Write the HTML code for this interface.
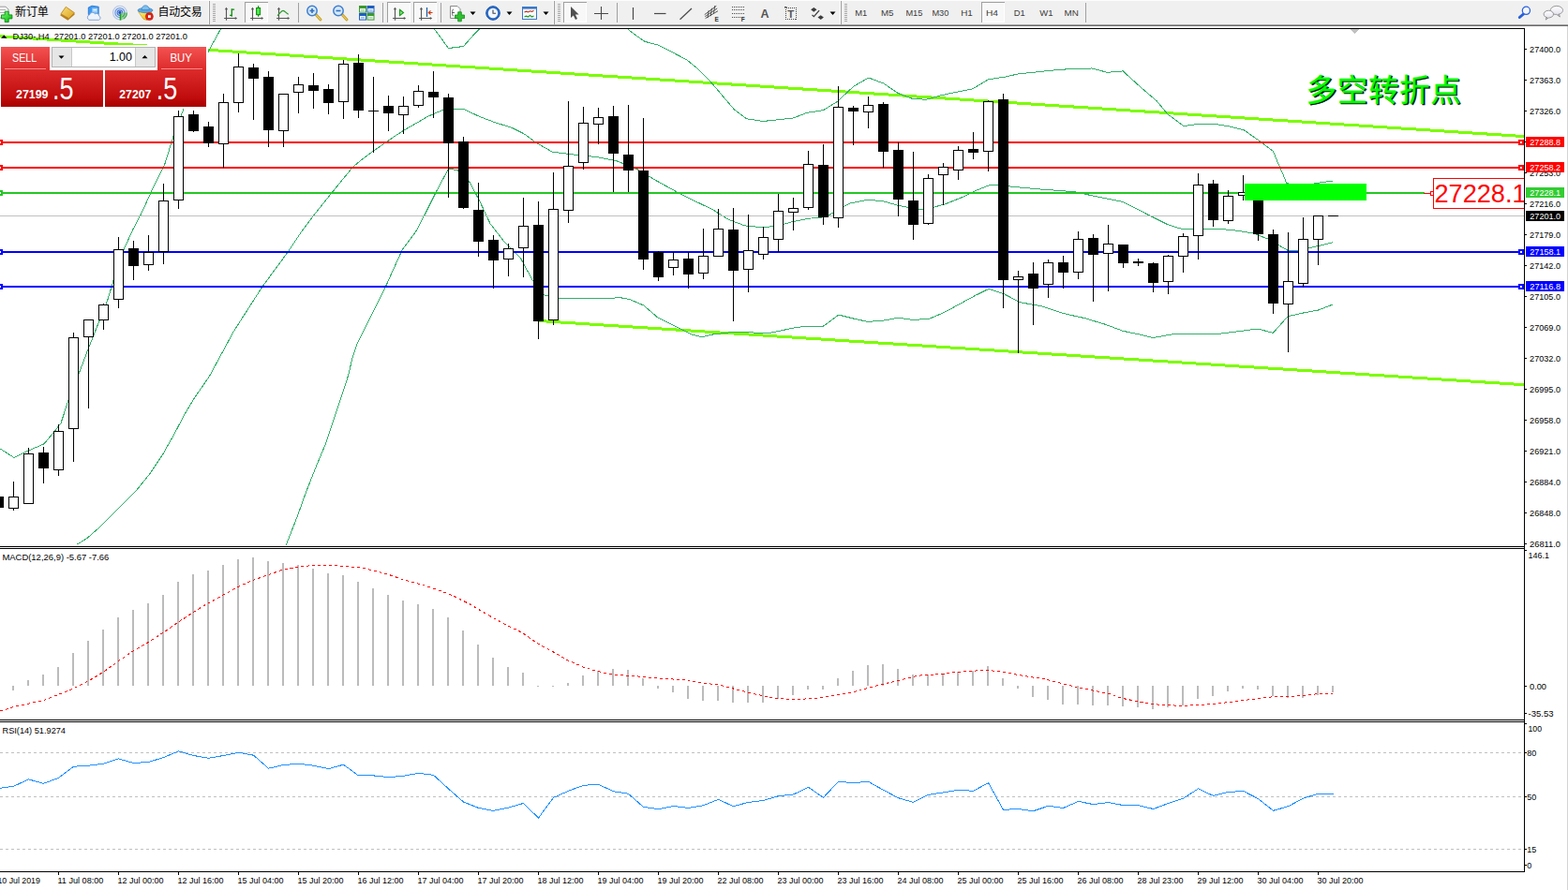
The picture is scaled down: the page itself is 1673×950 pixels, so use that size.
<!DOCTYPE html><html><head><meta charset="utf-8"><title>DJ30 H4</title><style>html,body{margin:0;padding:0;background:#fff;overflow:hidden}svg,svg text{font-family:"Liberation Sans",sans-serif}body{width:1673px;height:950px}</style></head><body><svg width="1673" height="950" viewBox="0 0 1673 950"  style="display:block">
<rect width="1673" height="950" fill="#fff"/>
<g shape-rendering="crispEdges">
<clipPath id="cm"><rect x="0" y="31" width="1626" height="552"/></clipPath>
<g clip-path="url(#cm)">
<line x1="0" y1="38.7" x2="1626" y2="145.6" stroke="#7cfc00" stroke-width="3"/>
<line x1="575" y1="342.5" x2="1626" y2="410.7" stroke="#7cfc00" stroke-width="3"/>
<polyline points="0.0,478.9 15.0,488.5 24.0,483.9 47.0,473.8 57.5,461.3 65.0,451.7 72.8,427.8 83.7,400.0 94.5,371.4 106.0,342.6 115.0,319.6 120.7,300.5 132.2,266.0 141.8,245.0 150.6,228.3 163.2,200.7 175.7,175.6 185.8,143.0 195.8,116.6 222.2,55.1 236.0,30.0" fill="none" stroke="#34ae6c" stroke-width="1"/>
<polyline points="669.6,30.9 678.3,37.6 687.8,44.3 702.2,48.1 716.5,55.3 732.8,63.9 743.3,72.5 752.9,81.6 761.5,91.1 772.0,103.6 783.5,116.9 796.6,126.7 813.8,129.5 846.1,126.1 861.1,120.3 878.4,117.7 893.4,108.4 910.6,92.3 926.8,83.0 942.9,89.1 958.0,99.4 973.0,105.2 988.1,106.3 1003.2,102.0 1018.2,98.7 1037.6,94.9 1054.8,84.7 1072.0,82.2 1085.9,79.0 1131.3,74.2 1164.8,73.0 1181.5,77.3 1198.2,75.9 1217.4,93.4 1234.1,107.7 1246.1,122.1 1262.8,134.5 1279.5,132.3 1298.7,132.8 1313.0,135.2 1327.3,138.8 1344.1,150.7 1358.4,161.5 1364.6,176.5 1368.9,186.1 1372.6,195.3 1388.0,200.0 1403.8,195.6 1421.6,193.1" fill="none" stroke="#34ae6c" stroke-width="1"/>
<polyline points="463.3,30.7 478.5,51.5 494.5,49.5 502.8,40.0 511.7,30.7" fill="none" stroke="#34ae6c" stroke-width="1"/>
<polyline points="82.5,581.1 93.0,574.4 108.3,561.0 127.5,541.8 144.7,524.5 160.1,505.4 173.5,485.3 185.0,465.1 196.5,443.1 208.0,424.0 223.3,401.9 249.1,354.1 279.8,306.2 306.6,269.8 320.0,249.7 333.9,230.9 354.0,205.8 376.6,178.1 384.1,171.9 399.2,160.6 420.0,146.2 430.1,139.6 456.0,124.6 473.2,117.0 494.7,116.4 511.9,124.6 529.1,131.0 546.3,136.4 559.2,142.9 572.2,152.5 589.4,162.2 615.2,165.4 636.7,167.6 658.2,171.9 679.7,180.5 701.3,193.4 722.8,205.3 744.3,216.0 760.0,223.5 777.2,234.3 794.4,240.8 813.8,242.9 831.0,240.8 846.1,236.5 863.3,233.2 880.5,231.7 893.4,224.6 906.3,217.1 925.7,213.2 942.9,214.9 958.0,219.2 970.9,221.8 983.8,223.5 996.7,221.0 1007.5,218.2 1029.0,209.6 1041.9,203.1 1057.0,197.1 1065.6,197.7 1078.7,199.1 1109.8,202.0 1145.6,204.6 1164.8,208.7 1198.2,215.4 1224.5,229.0 1246.1,239.8 1262.8,245.0 1274.7,244.6 1298.7,244.1 1320.2,246.2 1336.9,248.9 1353.6,255.3 1365.6,262.5 1375.2,268.0 1384.7,267.3 1401.5,263.7 1421.8,258.9" fill="none" stroke="#34ae6c" stroke-width="1"/>
<polyline points="305.3,581.6 317.2,551.4 326.8,524.5 338.2,495.8 347.8,472.8 357.4,444.1 365.1,421.1 371.8,400.0 375.9,382.4 381.2,366.3 397.3,334.1 411.6,305.5 429.5,266.1 443.8,247.0 453.8,227.9 464.6,206.3 478.5,180.1 488.2,181.6 501.1,194.5 511.9,214.9 523.0,238.7 538.1,258.1 555.3,275.3 568.2,299.0 581.1,315.1 596.2,318.4 630.6,318.4 662.9,317.9 671.5,319.4 686.6,325.9 701.6,338.8 723.2,349.6 738.2,357.1 749.0,359.7 759.7,357.1 781.3,354.5 798.5,354.5 813.5,356.0 824.3,354.9 844.9,350.4 858.9,348.2 878.4,348.2 894.8,336.1 910.4,340.0 925.9,343.4 941.5,342.3 958.7,339.2 974.2,341.5 991.4,340.3 1007.0,333.7 1025.6,323.6 1041.2,315.1 1054.9,308.4 1071.5,313.9 1088.3,322.7 1112.2,327.0 1136.1,334.9 1157.6,339.7 1179.1,346.2 1198.2,353.3 1217.4,357.4 1230.5,360.5 1253.2,356.4 1277.1,356.4 1301.0,356.2 1325.0,353.3 1341.7,351.0 1358.4,355.3 1374.0,337.8 1389.5,334.2 1406.2,331.1 1421.8,325.1" fill="none" stroke="#34ae6c" stroke-width="1"/>
<rect x="0" y="230" width="1626" height="1" fill="#c0c0c0"/>
<rect x="0" y="151" width="1626" height="2" fill="#ff0000"/>
<rect x="0" y="178" width="1626" height="2" fill="#ff0000"/>
<rect x="0" y="268" width="1626" height="2" fill="#0000ff"/>
<rect x="0" y="305" width="1626" height="2" fill="#0000ff"/>
<rect x="0" y="205" width="1520" height="2" fill="#24c824"/>
<rect x="0" y="530" width="4" height="12" fill="#000"/>
<rect x="14" y="514" width="1" height="31" fill="#000"/>
<rect x="9" y="530" width="11" height="13" fill="#000"/>
<rect x="10" y="531" width="9" height="11" fill="#fff"/>
<rect x="30" y="478" width="1" height="60" fill="#000"/>
<rect x="25" y="484" width="11" height="54" fill="#000"/>
<rect x="26" y="485" width="9" height="52" fill="#fff"/>
<rect x="46" y="477" width="1" height="39" fill="#000"/>
<rect x="41" y="483" width="11" height="17" fill="#000"/>
<rect x="62" y="453" width="1" height="55" fill="#000"/>
<rect x="57" y="460" width="11" height="42" fill="#000"/>
<rect x="58" y="461" width="9" height="40" fill="#fff"/>
<rect x="78" y="355" width="1" height="138" fill="#000"/>
<rect x="73" y="360" width="11" height="98" fill="#000"/>
<rect x="74" y="361" width="9" height="96" fill="#fff"/>
<rect x="94" y="341" width="1" height="95" fill="#000"/>
<rect x="89" y="341" width="11" height="19" fill="#000"/>
<rect x="90" y="342" width="9" height="17" fill="#fff"/>
<rect x="110" y="324" width="1" height="28" fill="#000"/>
<rect x="105" y="325" width="11" height="17" fill="#000"/>
<rect x="106" y="326" width="9" height="15" fill="#fff"/>
<rect x="126" y="253" width="1" height="76" fill="#000"/>
<rect x="121" y="266" width="11" height="54" fill="#000"/>
<rect x="122" y="267" width="9" height="52" fill="#fff"/>
<rect x="142" y="257" width="1" height="42" fill="#000"/>
<rect x="137" y="265" width="11" height="19" fill="#000"/>
<rect x="158" y="251" width="1" height="38" fill="#000"/>
<rect x="153" y="269" width="11" height="14" fill="#000"/>
<rect x="154" y="270" width="9" height="12" fill="#fff"/>
<rect x="174" y="196" width="1" height="86" fill="#000"/>
<rect x="169" y="214" width="11" height="55" fill="#000"/>
<rect x="170" y="215" width="9" height="53" fill="#fff"/>
<rect x="190" y="118" width="1" height="105" fill="#000"/>
<rect x="185" y="124" width="11" height="90" fill="#000"/>
<rect x="186" y="125" width="9" height="88" fill="#fff"/>
<rect x="206" y="118" width="1" height="23" fill="#000"/>
<rect x="201" y="122" width="11" height="18" fill="#000"/>
<rect x="222" y="130" width="1" height="27" fill="#000"/>
<rect x="217" y="135" width="11" height="18" fill="#000"/>
<rect x="238" y="100" width="1" height="79" fill="#000"/>
<rect x="233" y="109" width="11" height="45" fill="#000"/>
<rect x="234" y="110" width="9" height="43" fill="#fff"/>
<rect x="254" y="57" width="1" height="63" fill="#000"/>
<rect x="249" y="71" width="11" height="39" fill="#000"/>
<rect x="250" y="72" width="9" height="37" fill="#fff"/>
<rect x="270" y="68" width="1" height="60" fill="#000"/>
<rect x="265" y="72" width="11" height="12" fill="#000"/>
<rect x="286" y="76" width="1" height="81" fill="#000"/>
<rect x="281" y="82" width="11" height="57" fill="#000"/>
<rect x="302" y="100" width="1" height="57" fill="#000"/>
<rect x="297" y="100" width="11" height="40" fill="#000"/>
<rect x="298" y="101" width="9" height="38" fill="#fff"/>
<rect x="318" y="82" width="1" height="39" fill="#000"/>
<rect x="313" y="90" width="11" height="9" fill="#000"/>
<rect x="314" y="91" width="9" height="7" fill="#fff"/>
<rect x="334" y="78" width="1" height="38" fill="#000"/>
<rect x="329" y="91" width="11" height="6" fill="#000"/>
<rect x="350" y="90" width="1" height="32" fill="#000"/>
<rect x="345" y="95" width="11" height="15" fill="#000"/>
<rect x="366" y="64" width="1" height="63" fill="#000"/>
<rect x="361" y="68" width="11" height="41" fill="#000"/>
<rect x="362" y="69" width="9" height="39" fill="#fff"/>
<rect x="382" y="58" width="1" height="68" fill="#000"/>
<rect x="377" y="67" width="11" height="51" fill="#000"/>
<rect x="398" y="82" width="1" height="81" fill="#000"/>
<rect x="393" y="118" width="11" height="1" fill="#000"/>
<rect x="414" y="102" width="1" height="38" fill="#000"/>
<rect x="409" y="113" width="11" height="8" fill="#000"/>
<rect x="430" y="103" width="1" height="40" fill="#000"/>
<rect x="425" y="113" width="11" height="10" fill="#000"/>
<rect x="426" y="114" width="9" height="8" fill="#fff"/>
<rect x="446" y="91" width="1" height="24" fill="#000"/>
<rect x="441" y="97" width="11" height="16" fill="#000"/>
<rect x="442" y="98" width="9" height="14" fill="#fff"/>
<rect x="462" y="76" width="1" height="50" fill="#000"/>
<rect x="457" y="98" width="11" height="6" fill="#000"/>
<rect x="478" y="100" width="1" height="111" fill="#000"/>
<rect x="473" y="104" width="11" height="49" fill="#000"/>
<rect x="494" y="146" width="1" height="77" fill="#000"/>
<rect x="489" y="151" width="11" height="71" fill="#000"/>
<rect x="510" y="195" width="1" height="79" fill="#000"/>
<rect x="505" y="224" width="11" height="34" fill="#000"/>
<rect x="526" y="251" width="1" height="57" fill="#000"/>
<rect x="521" y="256" width="11" height="22" fill="#000"/>
<rect x="542" y="260" width="1" height="35" fill="#000"/>
<rect x="537" y="265" width="11" height="12" fill="#000"/>
<rect x="538" y="266" width="9" height="10" fill="#fff"/>
<rect x="558" y="211" width="1" height="85" fill="#000"/>
<rect x="553" y="241" width="11" height="24" fill="#000"/>
<rect x="554" y="242" width="9" height="22" fill="#fff"/>
<rect x="574" y="215" width="1" height="147" fill="#000"/>
<rect x="569" y="240" width="11" height="103" fill="#000"/>
<rect x="590" y="184" width="1" height="163" fill="#000"/>
<rect x="585" y="223" width="11" height="119" fill="#000"/>
<rect x="586" y="224" width="9" height="117" fill="#fff"/>
<rect x="606" y="108" width="1" height="130" fill="#000"/>
<rect x="601" y="177" width="11" height="48" fill="#000"/>
<rect x="602" y="178" width="9" height="46" fill="#fff"/>
<rect x="622" y="114" width="1" height="67" fill="#000"/>
<rect x="617" y="131" width="11" height="43" fill="#000"/>
<rect x="618" y="132" width="9" height="41" fill="#fff"/>
<rect x="638" y="115" width="1" height="39" fill="#000"/>
<rect x="633" y="125" width="11" height="8" fill="#000"/>
<rect x="634" y="126" width="9" height="6" fill="#fff"/>
<rect x="654" y="113" width="1" height="92" fill="#000"/>
<rect x="649" y="124" width="11" height="40" fill="#000"/>
<rect x="670" y="112" width="1" height="93" fill="#000"/>
<rect x="665" y="165" width="11" height="17" fill="#000"/>
<rect x="686" y="126" width="1" height="162" fill="#000"/>
<rect x="681" y="182" width="11" height="95" fill="#000"/>
<rect x="702" y="268" width="1" height="32" fill="#000"/>
<rect x="697" y="269" width="11" height="27" fill="#000"/>
<rect x="718" y="269" width="1" height="25" fill="#000"/>
<rect x="713" y="277" width="11" height="9" fill="#000"/>
<rect x="714" y="278" width="9" height="7" fill="#fff"/>
<rect x="734" y="269" width="1" height="39" fill="#000"/>
<rect x="729" y="276" width="11" height="17" fill="#000"/>
<rect x="750" y="244" width="1" height="54" fill="#000"/>
<rect x="745" y="273" width="11" height="19" fill="#000"/>
<rect x="746" y="274" width="9" height="17" fill="#fff"/>
<rect x="766" y="223" width="1" height="51" fill="#000"/>
<rect x="761" y="244" width="11" height="30" fill="#000"/>
<rect x="762" y="245" width="9" height="28" fill="#fff"/>
<rect x="782" y="222" width="1" height="121" fill="#000"/>
<rect x="777" y="245" width="11" height="44" fill="#000"/>
<rect x="798" y="229" width="1" height="83" fill="#000"/>
<rect x="793" y="267" width="11" height="21" fill="#000"/>
<rect x="794" y="268" width="9" height="19" fill="#fff"/>
<rect x="814" y="242" width="1" height="35" fill="#000"/>
<rect x="809" y="253" width="11" height="19" fill="#000"/>
<rect x="810" y="254" width="9" height="17" fill="#fff"/>
<rect x="830" y="207" width="1" height="62" fill="#000"/>
<rect x="825" y="225" width="11" height="31" fill="#000"/>
<rect x="826" y="226" width="9" height="29" fill="#fff"/>
<rect x="846" y="211" width="1" height="35" fill="#000"/>
<rect x="841" y="222" width="11" height="5" fill="#000"/>
<rect x="842" y="223" width="9" height="3" fill="#fff"/>
<rect x="862" y="161" width="1" height="63" fill="#000"/>
<rect x="857" y="175" width="11" height="47" fill="#000"/>
<rect x="858" y="176" width="9" height="45" fill="#fff"/>
<rect x="878" y="154" width="1" height="86" fill="#000"/>
<rect x="873" y="176" width="11" height="56" fill="#000"/>
<rect x="894" y="92" width="1" height="151" fill="#000"/>
<rect x="889" y="114" width="11" height="119" fill="#000"/>
<rect x="890" y="115" width="9" height="117" fill="#fff"/>
<rect x="910" y="113" width="1" height="42" fill="#000"/>
<rect x="905" y="115" width="11" height="4" fill="#000"/>
<rect x="926" y="103" width="1" height="34" fill="#000"/>
<rect x="921" y="112" width="11" height="8" fill="#000"/>
<rect x="922" y="113" width="9" height="6" fill="#fff"/>
<rect x="942" y="109" width="1" height="70" fill="#000"/>
<rect x="937" y="111" width="11" height="51" fill="#000"/>
<rect x="958" y="152" width="1" height="79" fill="#000"/>
<rect x="953" y="160" width="11" height="53" fill="#000"/>
<rect x="974" y="162" width="1" height="94" fill="#000"/>
<rect x="969" y="214" width="11" height="26" fill="#000"/>
<rect x="990" y="186" width="1" height="54" fill="#000"/>
<rect x="985" y="190" width="11" height="49" fill="#000"/>
<rect x="986" y="191" width="9" height="47" fill="#fff"/>
<rect x="1006" y="174" width="1" height="45" fill="#000"/>
<rect x="1001" y="178" width="11" height="9" fill="#000"/>
<rect x="1002" y="179" width="9" height="7" fill="#fff"/>
<rect x="1022" y="156" width="1" height="36" fill="#000"/>
<rect x="1017" y="160" width="11" height="22" fill="#000"/>
<rect x="1018" y="161" width="9" height="20" fill="#fff"/>
<rect x="1038" y="141" width="1" height="29" fill="#000"/>
<rect x="1033" y="159" width="11" height="4" fill="#000"/>
<rect x="1054" y="107" width="1" height="76" fill="#000"/>
<rect x="1049" y="108" width="11" height="54" fill="#000"/>
<rect x="1050" y="109" width="9" height="52" fill="#fff"/>
<rect x="1070" y="100" width="1" height="229" fill="#000"/>
<rect x="1065" y="106" width="11" height="193" fill="#000"/>
<rect x="1086" y="289" width="1" height="88" fill="#000"/>
<rect x="1081" y="295" width="11" height="4" fill="#000"/>
<rect x="1082" y="296" width="9" height="2" fill="#fff"/>
<rect x="1102" y="280" width="1" height="67" fill="#000"/>
<rect x="1097" y="292" width="11" height="16" fill="#000"/>
<rect x="1118" y="277" width="1" height="41" fill="#000"/>
<rect x="1113" y="280" width="11" height="24" fill="#000"/>
<rect x="1114" y="281" width="9" height="22" fill="#fff"/>
<rect x="1134" y="273" width="1" height="35" fill="#000"/>
<rect x="1129" y="280" width="11" height="11" fill="#000"/>
<rect x="1150" y="247" width="1" height="51" fill="#000"/>
<rect x="1145" y="255" width="11" height="36" fill="#000"/>
<rect x="1146" y="256" width="9" height="34" fill="#fff"/>
<rect x="1166" y="250" width="1" height="72" fill="#000"/>
<rect x="1161" y="254" width="11" height="18" fill="#000"/>
<rect x="1182" y="240" width="1" height="71" fill="#000"/>
<rect x="1177" y="260" width="11" height="11" fill="#000"/>
<rect x="1178" y="261" width="9" height="9" fill="#fff"/>
<rect x="1198" y="261" width="1" height="25" fill="#000"/>
<rect x="1193" y="261" width="11" height="20" fill="#000"/>
<rect x="1214" y="276" width="1" height="8" fill="#000"/>
<rect x="1209" y="279" width="11" height="2" fill="#000"/>
<rect x="1230" y="280" width="1" height="32" fill="#000"/>
<rect x="1225" y="281" width="11" height="21" fill="#000"/>
<rect x="1246" y="272" width="1" height="42" fill="#000"/>
<rect x="1241" y="273" width="11" height="28" fill="#000"/>
<rect x="1242" y="274" width="9" height="26" fill="#fff"/>
<rect x="1262" y="249" width="1" height="42" fill="#000"/>
<rect x="1257" y="252" width="11" height="22" fill="#000"/>
<rect x="1258" y="253" width="9" height="20" fill="#fff"/>
<rect x="1278" y="185" width="1" height="92" fill="#000"/>
<rect x="1273" y="197" width="11" height="55" fill="#000"/>
<rect x="1274" y="198" width="9" height="53" fill="#fff"/>
<rect x="1294" y="192" width="1" height="50" fill="#000"/>
<rect x="1289" y="196" width="11" height="39" fill="#000"/>
<rect x="1310" y="203" width="1" height="36" fill="#000"/>
<rect x="1305" y="209" width="11" height="27" fill="#000"/>
<rect x="1306" y="210" width="9" height="25" fill="#fff"/>
<rect x="1326" y="187" width="1" height="27" fill="#000"/>
<rect x="1321" y="205" width="11" height="4" fill="#000"/>
<rect x="1322" y="206" width="9" height="2" fill="#fff"/>
<rect x="1342" y="200" width="1" height="57" fill="#000"/>
<rect x="1337" y="205" width="11" height="45" fill="#000"/>
<rect x="1358" y="245" width="1" height="90" fill="#000"/>
<rect x="1353" y="250" width="11" height="74" fill="#000"/>
<rect x="1374" y="248" width="1" height="128" fill="#000"/>
<rect x="1369" y="300" width="11" height="25" fill="#000"/>
<rect x="1370" y="301" width="9" height="23" fill="#fff"/>
<rect x="1390" y="232" width="1" height="74" fill="#000"/>
<rect x="1385" y="255" width="11" height="48" fill="#000"/>
<rect x="1386" y="256" width="9" height="46" fill="#fff"/>
<rect x="1406" y="230" width="1" height="53" fill="#000"/>
<rect x="1401" y="230" width="11" height="26" fill="#000"/>
<rect x="1402" y="231" width="9" height="24" fill="#fff"/>
<rect x="1417" y="230" width="11" height="1" fill="#000"/>
<rect x="1328" y="196" width="130" height="18" fill="#00ff00"/>
<rect x="-3" y="149" width="6" height="6" fill="#ff0000"/><rect x="-1" y="151" width="2" height="2" fill="#fff"/>
<rect x="-3" y="176" width="6" height="6" fill="#ff0000"/><rect x="-1" y="178" width="2" height="2" fill="#fff"/>
<rect x="-3" y="203" width="6" height="6" fill="#24c824"/><rect x="-1" y="205" width="2" height="2" fill="#fff"/>
<rect x="-3" y="266" width="6" height="6" fill="#0000ff"/><rect x="-1" y="268" width="2" height="2" fill="#fff"/>
<rect x="-3" y="303" width="6" height="6" fill="#0000ff"/><rect x="-1" y="305" width="2" height="2" fill="#fff"/>
<rect x="1620" y="149" width="6" height="6" fill="#ff0000"/><rect x="1622" y="151" width="2" height="2" fill="#fff"/>
<rect x="1620" y="176" width="6" height="6" fill="#ff0000"/><rect x="1622" y="178" width="2" height="2" fill="#fff"/>
<rect x="1620" y="266" width="6" height="6" fill="#0000ff"/><rect x="1622" y="268" width="2" height="2" fill="#fff"/>
<rect x="1620" y="303" width="6" height="6" fill="#0000ff"/><rect x="1622" y="305" width="2" height="2" fill="#fff"/>
<rect x="1519" y="206" width="10" height="1" fill="#ff0000"/>
<rect x="1526.5" y="204.5" width="3" height="4" fill="#fff" stroke="#ff0000" stroke-width="1"/>
<rect x="1529.5" y="190.5" width="110" height="32" fill="#fff" stroke="#ff0000" stroke-width="1"/>
</g>
<path d="M1440.5,31 L1450.5,31 L1445.5,36 Z" fill="#c0c0c0"/>
<rect x="0" y="30" width="1627" height="1" fill="#000"/>
<rect x="0" y="583" width="1627" height="1" fill="#000"/>
<rect x="0" y="585" width="1627" height="1" fill="#000"/>
<rect x="0" y="768" width="1627" height="1" fill="#000"/>
<rect x="0" y="770" width="1627" height="1" fill="#000"/>
<rect x="0" y="930" width="1627" height="1" fill="#000"/>
<rect x="1626" y="30" width="1" height="901" fill="#000"/>
<rect x="1672" y="28" width="1" height="922" fill="#d4d4d4"/>
<rect x="13" y="732" width="2" height="5" fill="#bbbbbb"/>
<rect x="29" y="726" width="2" height="6" fill="#bbbbbb"/>
<rect x="45" y="720" width="2" height="12" fill="#bbbbbb"/>
<rect x="61" y="712" width="2" height="20" fill="#bbbbbb"/>
<rect x="77" y="697" width="2" height="35" fill="#bbbbbb"/>
<rect x="93" y="684" width="2" height="48" fill="#bbbbbb"/>
<rect x="109" y="672" width="2" height="60" fill="#bbbbbb"/>
<rect x="125" y="659" width="2" height="73" fill="#bbbbbb"/>
<rect x="141" y="651" width="2" height="81" fill="#bbbbbb"/>
<rect x="157" y="644" width="2" height="88" fill="#bbbbbb"/>
<rect x="173" y="635" width="2" height="97" fill="#bbbbbb"/>
<rect x="189" y="621" width="2" height="111" fill="#bbbbbb"/>
<rect x="205" y="613" width="2" height="119" fill="#bbbbbb"/>
<rect x="221" y="609" width="2" height="123" fill="#bbbbbb"/>
<rect x="237" y="603" width="2" height="129" fill="#bbbbbb"/>
<rect x="253" y="597" width="2" height="135" fill="#bbbbbb"/>
<rect x="269" y="595" width="2" height="137" fill="#bbbbbb"/>
<rect x="285" y="599" width="2" height="133" fill="#bbbbbb"/>
<rect x="301" y="601" width="2" height="131" fill="#bbbbbb"/>
<rect x="317" y="603" width="2" height="129" fill="#bbbbbb"/>
<rect x="333" y="607" width="2" height="125" fill="#bbbbbb"/>
<rect x="349" y="612" width="2" height="120" fill="#bbbbbb"/>
<rect x="365" y="614" width="2" height="118" fill="#bbbbbb"/>
<rect x="381" y="621" width="2" height="111" fill="#bbbbbb"/>
<rect x="397" y="628" width="2" height="104" fill="#bbbbbb"/>
<rect x="413" y="635" width="2" height="97" fill="#bbbbbb"/>
<rect x="429" y="641" width="2" height="91" fill="#bbbbbb"/>
<rect x="445" y="645" width="2" height="87" fill="#bbbbbb"/>
<rect x="461" y="650" width="2" height="82" fill="#bbbbbb"/>
<rect x="477" y="659" width="2" height="73" fill="#bbbbbb"/>
<rect x="493" y="673" width="2" height="59" fill="#bbbbbb"/>
<rect x="509" y="688" width="2" height="44" fill="#bbbbbb"/>
<rect x="525" y="702" width="2" height="30" fill="#bbbbbb"/>
<rect x="541" y="712" width="2" height="20" fill="#bbbbbb"/>
<rect x="557" y="718" width="2" height="14" fill="#bbbbbb"/>
<rect x="573" y="732" width="2" height="1" fill="#bbbbbb"/>
<rect x="589" y="732" width="2" height="1" fill="#bbbbbb"/>
<rect x="605" y="729" width="2" height="3" fill="#bbbbbb"/>
<rect x="621" y="721" width="2" height="11" fill="#bbbbbb"/>
<rect x="637" y="716" width="2" height="16" fill="#bbbbbb"/>
<rect x="653" y="714" width="2" height="18" fill="#bbbbbb"/>
<rect x="669" y="715" width="2" height="17" fill="#bbbbbb"/>
<rect x="685" y="724" width="2" height="8" fill="#bbbbbb"/>
<rect x="701" y="732" width="2" height="3" fill="#bbbbbb"/>
<rect x="717" y="732" width="2" height="7" fill="#bbbbbb"/>
<rect x="733" y="732" width="2" height="14" fill="#bbbbbb"/>
<rect x="749" y="732" width="2" height="16" fill="#bbbbbb"/>
<rect x="765" y="732" width="2" height="16" fill="#bbbbbb"/>
<rect x="781" y="732" width="2" height="18" fill="#bbbbbb"/>
<rect x="797" y="732" width="2" height="18" fill="#bbbbbb"/>
<rect x="813" y="732" width="2" height="18" fill="#bbbbbb"/>
<rect x="829" y="732" width="2" height="14" fill="#bbbbbb"/>
<rect x="845" y="732" width="2" height="10" fill="#bbbbbb"/>
<rect x="861" y="732" width="2" height="4" fill="#bbbbbb"/>
<rect x="877" y="732" width="2" height="4" fill="#bbbbbb"/>
<rect x="893" y="724" width="2" height="8" fill="#bbbbbb"/>
<rect x="909" y="716" width="2" height="16" fill="#bbbbbb"/>
<rect x="925" y="710" width="2" height="22" fill="#bbbbbb"/>
<rect x="941" y="709" width="2" height="23" fill="#bbbbbb"/>
<rect x="957" y="714" width="2" height="18" fill="#bbbbbb"/>
<rect x="973" y="720" width="2" height="12" fill="#bbbbbb"/>
<rect x="989" y="720" width="2" height="12" fill="#bbbbbb"/>
<rect x="1005" y="719" width="2" height="13" fill="#bbbbbb"/>
<rect x="1021" y="717" width="2" height="15" fill="#bbbbbb"/>
<rect x="1037" y="716" width="2" height="16" fill="#bbbbbb"/>
<rect x="1053" y="711" width="2" height="21" fill="#bbbbbb"/>
<rect x="1069" y="724" width="2" height="8" fill="#bbbbbb"/>
<rect x="1085" y="732" width="2" height="3" fill="#bbbbbb"/>
<rect x="1101" y="732" width="2" height="12" fill="#bbbbbb"/>
<rect x="1117" y="732" width="2" height="15" fill="#bbbbbb"/>
<rect x="1133" y="732" width="2" height="20" fill="#bbbbbb"/>
<rect x="1149" y="732" width="2" height="20" fill="#bbbbbb"/>
<rect x="1165" y="732" width="2" height="21" fill="#bbbbbb"/>
<rect x="1181" y="732" width="2" height="21" fill="#bbbbbb"/>
<rect x="1197" y="732" width="2" height="22" fill="#bbbbbb"/>
<rect x="1213" y="732" width="2" height="23" fill="#bbbbbb"/>
<rect x="1229" y="732" width="2" height="25" fill="#bbbbbb"/>
<rect x="1245" y="732" width="2" height="23" fill="#bbbbbb"/>
<rect x="1261" y="732" width="2" height="21" fill="#bbbbbb"/>
<rect x="1277" y="732" width="2" height="14" fill="#bbbbbb"/>
<rect x="1293" y="732" width="2" height="11" fill="#bbbbbb"/>
<rect x="1309" y="732" width="2" height="6" fill="#bbbbbb"/>
<rect x="1325" y="732" width="2" height="3" fill="#bbbbbb"/>
<rect x="1341" y="732" width="2" height="4" fill="#bbbbbb"/>
<rect x="1357" y="732" width="2" height="11" fill="#bbbbbb"/>
<rect x="1373" y="732" width="2" height="13" fill="#bbbbbb"/>
<rect x="1389" y="732" width="2" height="13" fill="#bbbbbb"/>
<rect x="1405" y="732" width="2" height="10" fill="#bbbbbb"/>
<rect x="1421" y="732" width="2" height="7" fill="#bbbbbb"/>
<polyline points="0.0,759.1 14.0,754.7 46.9,747.4 77.0,735.7 93.7,727.3 110.5,717.3 125.5,706.2 142.3,694.8 157.3,686.1 174.1,675.4 190.8,663.7 205.9,653.7 220.9,644.6 237.7,635.3 254.4,626.2 269.5,619.5 286.2,613.5 302.9,607.8 318.0,605.1 334.7,603.5 354.8,603.5 368.2,604.5 384.9,605.8 398.3,609.1 415.1,613.5 431.8,619.2 451.9,624.5 468.6,630.2 485.4,636.9 502.1,645.3 518.8,655.3 535.6,664.7 556.7,675.1 573.5,686.9 590.2,695.9 606.9,705.3 623.7,712.6 637.1,716.3 653.8,720.3 673.9,721.3 697.3,723.7 734.1,726.0 747.5,729.0 767.6,731.0 787.7,736.4 807.8,741.4 824.5,744.8 841.3,746.4 868.0,745.8 888.1,742.4 908.2,739.4 924.9,734.7 941.7,730.4 958.4,726.4 978.5,721.3 1005.3,719.3 1022.0,717.3 1052.1,715.3 1068.9,717.0 1085.6,720.3 1115.4,725.1 1150.9,733.9 1182.8,740.3 1197.0,745.3 1228.9,751.7 1260.8,753.4 1292.7,751.7 1328.1,747.4 1356.5,743.9 1388.4,742.8 1406.1,740.7 1422.0,740.3" fill="none" stroke="#ff0000" stroke-width="1" stroke-dasharray="3,3"/>
<line x1="0" y1="803.5" x2="1626" y2="803.5" stroke="#c0c0c0" stroke-width="1" stroke-dasharray="3,3"/>
<line x1="0" y1="850.5" x2="1626" y2="850.5" stroke="#c0c0c0" stroke-width="1" stroke-dasharray="3,3"/>
<line x1="0" y1="906.5" x2="1626" y2="906.5" stroke="#c0c0c0" stroke-width="1" stroke-dasharray="3,3"/>
<polyline points="0.0,841.3 14.5,839.3 30.5,831.9 46.5,836.3 62.5,830.3 78.5,818.2 94.5,817.2 110.5,815.2 126.5,809.9 142.5,814.5 158.5,813.5 174.5,808.5 190.5,801.8 206.5,806.5 222.5,809.2 238.5,806.5 254.5,803.2 270.5,806.2 286.5,820.2 302.5,816.5 318.5,815.2 334.5,817.2 350.5,820.6 366.5,816.2 382.5,827.9 398.5,827.9 414.5,829.6 430.5,828.3 446.5,825.3 462.5,827.3 478.5,842.0 494.5,856.0 510.5,862.4 526.5,865.4 542.5,862.1 558.5,857.4 574.5,873.1 590.5,851.4 606.5,844.3 622.5,838.3 638.5,837.3 654.5,844.7 670.5,847.3 686.5,861.4 702.5,863.7 718.5,860.4 734.5,862.4 750.5,859.7 766.5,853.4 782.5,860.7 798.5,856.4 814.5,854.4 830.5,849.7 846.5,848.0 862.5,840.3 878.5,851.4 894.5,834.3 910.5,835.6 926.5,834.3 942.5,843.3 958.5,851.7 974.5,856.4 990.5,848.3 1006.5,846.0 1022.5,843.3 1038.5,844.3 1054.5,835.6 1070.5,864.4 1086.5,863.5 1102.5,865.7 1118.5,860.3 1134.5,862.5 1150.5,855.4 1166.5,858.6 1182.5,856.5 1198.5,859.6 1214.5,859.6 1230.5,863.5 1246.5,857.5 1262.5,852.2 1278.5,841.9 1294.5,849.4 1310.5,845.5 1326.5,844.4 1342.5,852.6 1358.5,865.3 1374.5,860.7 1390.5,852.2 1406.5,847.2 1422.5,847.2" fill="none" stroke="#1e90ff" stroke-width="1"/>
<rect x="1627" y="52" width="2" height="1" fill="#000"/>
<rect x="1627" y="85" width="2" height="1" fill="#000"/>
<rect x="1627" y="118" width="2" height="1" fill="#000"/>
<rect x="1627" y="151" width="2" height="1" fill="#000"/>
<rect x="1627" y="184" width="2" height="1" fill="#000"/>
<rect x="1627" y="217" width="2" height="1" fill="#000"/>
<rect x="1627" y="250" width="2" height="1" fill="#000"/>
<rect x="1627" y="283" width="2" height="1" fill="#000"/>
<rect x="1627" y="316" width="2" height="1" fill="#000"/>
<rect x="1627" y="349" width="2" height="1" fill="#000"/>
<rect x="1627" y="382" width="2" height="1" fill="#000"/>
<rect x="1627" y="415" width="2" height="1" fill="#000"/>
<rect x="1627" y="448" width="2" height="1" fill="#000"/>
<rect x="1627" y="481" width="2" height="1" fill="#000"/>
<rect x="1627" y="514" width="2" height="1" fill="#000"/>
<rect x="1627" y="547" width="2" height="1" fill="#000"/>
<rect x="1627" y="580" width="2" height="1" fill="#000"/>
<rect x="1627" y="587" width="2" height="1" fill="#000"/>
<rect x="1627" y="732" width="2" height="1" fill="#000"/>
<rect x="1627" y="761" width="2" height="1" fill="#000"/>
<rect x="1627" y="772" width="2" height="1" fill="#000"/>
<rect x="1627" y="803" width="2" height="1" fill="#000"/>
<rect x="1627" y="850" width="2" height="1" fill="#000"/>
<rect x="1627" y="906" width="2" height="1" fill="#000"/>
<rect x="1627" y="923" width="2" height="1" fill="#000"/>
<rect x="-2" y="931" width="1" height="3" fill="#000"/>
<rect x="62" y="931" width="1" height="3" fill="#000"/>
<rect x="126" y="931" width="1" height="3" fill="#000"/>
<rect x="190" y="931" width="1" height="3" fill="#000"/>
<rect x="254" y="931" width="1" height="3" fill="#000"/>
<rect x="318" y="931" width="1" height="3" fill="#000"/>
<rect x="382" y="931" width="1" height="3" fill="#000"/>
<rect x="446" y="931" width="1" height="3" fill="#000"/>
<rect x="510" y="931" width="1" height="3" fill="#000"/>
<rect x="574" y="931" width="1" height="3" fill="#000"/>
<rect x="638" y="931" width="1" height="3" fill="#000"/>
<rect x="702" y="931" width="1" height="3" fill="#000"/>
<rect x="766" y="931" width="1" height="3" fill="#000"/>
<rect x="830" y="931" width="1" height="3" fill="#000"/>
<rect x="894" y="931" width="1" height="3" fill="#000"/>
<rect x="958" y="931" width="1" height="3" fill="#000"/>
<rect x="1022" y="931" width="1" height="3" fill="#000"/>
<rect x="1086" y="931" width="1" height="3" fill="#000"/>
<rect x="1150" y="931" width="1" height="3" fill="#000"/>
<rect x="1214" y="931" width="1" height="3" fill="#000"/>
<rect x="1278" y="931" width="1" height="3" fill="#000"/>
<rect x="1342" y="931" width="1" height="3" fill="#000"/>
<rect x="1406" y="931" width="1" height="3" fill="#000"/>
</g>
<g>
<text x="1632.1" y="56.0" font-size="9.3" fill="#000" textLength="32.9" lengthAdjust="spacingAndGlyphs" >27400.0</text>
<text x="1632.1" y="89.0" font-size="9.3" fill="#000" textLength="32.9" lengthAdjust="spacingAndGlyphs" >27363.0</text>
<text x="1632.1" y="122.0" font-size="9.3" fill="#000" textLength="32.9" lengthAdjust="spacingAndGlyphs" >27326.0</text>
<text x="1632.1" y="155.0" font-size="9.3" fill="#000" textLength="32.9" lengthAdjust="spacingAndGlyphs" >27289.0</text>
<text x="1632.1" y="188.0" font-size="9.3" fill="#000" textLength="32.9" lengthAdjust="spacingAndGlyphs" >27253.0</text>
<text x="1632.1" y="221.0" font-size="9.3" fill="#000" textLength="32.9" lengthAdjust="spacingAndGlyphs" >27216.0</text>
<text x="1632.1" y="254.0" font-size="9.3" fill="#000" textLength="32.9" lengthAdjust="spacingAndGlyphs" >27179.0</text>
<text x="1632.1" y="287.0" font-size="9.3" fill="#000" textLength="32.9" lengthAdjust="spacingAndGlyphs" >27142.0</text>
<text x="1632.1" y="320.0" font-size="9.3" fill="#000" textLength="32.9" lengthAdjust="spacingAndGlyphs" >27105.0</text>
<text x="1632.1" y="353.0" font-size="9.3" fill="#000" textLength="32.9" lengthAdjust="spacingAndGlyphs" >27069.0</text>
<text x="1632.1" y="386.0" font-size="9.3" fill="#000" textLength="32.9" lengthAdjust="spacingAndGlyphs" >27032.0</text>
<text x="1632.1" y="419.0" font-size="9.3" fill="#000" textLength="32.9" lengthAdjust="spacingAndGlyphs" >26995.0</text>
<text x="1632.1" y="452.0" font-size="9.3" fill="#000" textLength="32.9" lengthAdjust="spacingAndGlyphs" >26958.0</text>
<text x="1632.1" y="485.0" font-size="9.3" fill="#000" textLength="32.9" lengthAdjust="spacingAndGlyphs" >26921.0</text>
<text x="1632.1" y="518.0" font-size="9.3" fill="#000" textLength="32.9" lengthAdjust="spacingAndGlyphs" >26884.0</text>
<text x="1632.1" y="551.0" font-size="9.3" fill="#000" textLength="32.9" lengthAdjust="spacingAndGlyphs" >26848.0</text>
<text x="1632.1" y="584.0" font-size="9.3" fill="#000" textLength="32.9" lengthAdjust="spacingAndGlyphs" >26811.0</text>
<rect x="1628" y="146" width="41" height="11" fill="#ff0000" shape-rendering="crispEdges"/>
<text x="1632.3" y="155.0" font-size="9.3" fill="#fff" textLength="32.8" lengthAdjust="spacingAndGlyphs" >27288.8</text>
<rect x="1628" y="173" width="41" height="11" fill="#ff0000" shape-rendering="crispEdges"/>
<text x="1632.3" y="182.0" font-size="9.3" fill="#fff" textLength="32.8" lengthAdjust="spacingAndGlyphs" >27258.2</text>
<rect x="1628" y="200" width="41" height="11" fill="#32cd32" shape-rendering="crispEdges"/>
<text x="1632.3" y="209.0" font-size="9.3" fill="#fff" textLength="32.8" lengthAdjust="spacingAndGlyphs" >27228.1</text>
<rect x="1628" y="225" width="41" height="11" fill="#000000" shape-rendering="crispEdges"/>
<text x="1632.3" y="234.0" font-size="9.3" fill="#fff" textLength="32.8" lengthAdjust="spacingAndGlyphs" >27201.0</text>
<rect x="1628" y="263" width="41" height="11" fill="#0000ff" shape-rendering="crispEdges"/>
<text x="1632.3" y="272.0" font-size="9.3" fill="#fff" textLength="32.8" lengthAdjust="spacingAndGlyphs" >27158.1</text>
<rect x="1628" y="300" width="41" height="11" fill="#0000ff" shape-rendering="crispEdges"/>
<text x="1632.3" y="309.0" font-size="9.3" fill="#fff" textLength="32.8" lengthAdjust="spacingAndGlyphs" >27116.8</text>
<clipPath id="cb"><rect x="1529" y="190" width="97" height="33"/></clipPath>
<g clip-path="url(#cb)"><text x="1530.5" y="216.3" font-size="27" fill="#ff0000" textLength="98" lengthAdjust="spacingAndGlyphs" >27228.1</text></g>
<text x="1630.5" y="595.8" font-size="9.3" fill="#000" textLength="22.5" lengthAdjust="spacingAndGlyphs" >146.1</text>
<text x="1632" y="735.8" font-size="9.3" fill="#000" textLength="18" lengthAdjust="spacingAndGlyphs" >0.00</text>
<text x="1630.5" y="765.0" font-size="9.3" fill="#000" textLength="27" lengthAdjust="spacingAndGlyphs" >-35.53</text>
<text x="1630.5" y="780.8" font-size="9.3" fill="#000" textLength="14.5" lengthAdjust="spacingAndGlyphs" >100</text>
<text x="1629.3" y="806.8" font-size="9.3" fill="#000" textLength="10" lengthAdjust="spacingAndGlyphs" >80</text>
<text x="1629.3" y="853.8" font-size="9.3" fill="#000" textLength="10" lengthAdjust="spacingAndGlyphs" >50</text>
<text x="1629.3" y="909.9" font-size="9.3" fill="#000" textLength="10" lengthAdjust="spacingAndGlyphs" >15</text>
<text x="1629.3" y="926.6" font-size="9.3" fill="#000" textLength="5" lengthAdjust="spacingAndGlyphs" >0</text>
<text x="2.4" y="597.6" font-size="9.3" fill="#000" textLength="114" lengthAdjust="spacingAndGlyphs" >MACD(12,26,9) -5.67 -7.66</text>
<text x="2.5" y="783.2" font-size="9.3" fill="#000" textLength="67.5" lengthAdjust="spacingAndGlyphs" >RSI(14) 51.9274</text>
<text x="-2.6" y="943.2" font-size="9.3" fill="#000" textLength="45.5" lengthAdjust="spacingAndGlyphs" >10 Jul 2019</text>
<text x="61.4" y="943.2" font-size="9.3" fill="#000" textLength="49" lengthAdjust="spacingAndGlyphs" >11 Jul 08:00</text>
<text x="125.4" y="943.2" font-size="9.3" fill="#000" textLength="49" lengthAdjust="spacingAndGlyphs" >12 Jul 00:00</text>
<text x="189.4" y="943.2" font-size="9.3" fill="#000" textLength="49" lengthAdjust="spacingAndGlyphs" >12 Jul 16:00</text>
<text x="253.4" y="943.2" font-size="9.3" fill="#000" textLength="49" lengthAdjust="spacingAndGlyphs" >15 Jul 04:00</text>
<text x="317.4" y="943.2" font-size="9.3" fill="#000" textLength="49" lengthAdjust="spacingAndGlyphs" >15 Jul 20:00</text>
<text x="381.4" y="943.2" font-size="9.3" fill="#000" textLength="49" lengthAdjust="spacingAndGlyphs" >16 Jul 12:00</text>
<text x="445.4" y="943.2" font-size="9.3" fill="#000" textLength="49" lengthAdjust="spacingAndGlyphs" >17 Jul 04:00</text>
<text x="509.4" y="943.2" font-size="9.3" fill="#000" textLength="49" lengthAdjust="spacingAndGlyphs" >17 Jul 20:00</text>
<text x="573.4" y="943.2" font-size="9.3" fill="#000" textLength="49" lengthAdjust="spacingAndGlyphs" >18 Jul 12:00</text>
<text x="637.4" y="943.2" font-size="9.3" fill="#000" textLength="49" lengthAdjust="spacingAndGlyphs" >19 Jul 04:00</text>
<text x="701.4" y="943.2" font-size="9.3" fill="#000" textLength="49" lengthAdjust="spacingAndGlyphs" >19 Jul 20:00</text>
<text x="765.4" y="943.2" font-size="9.3" fill="#000" textLength="49" lengthAdjust="spacingAndGlyphs" >22 Jul 08:00</text>
<text x="829.4" y="943.2" font-size="9.3" fill="#000" textLength="49" lengthAdjust="spacingAndGlyphs" >23 Jul 00:00</text>
<text x="893.4" y="943.2" font-size="9.3" fill="#000" textLength="49" lengthAdjust="spacingAndGlyphs" >23 Jul 16:00</text>
<text x="957.4" y="943.2" font-size="9.3" fill="#000" textLength="49" lengthAdjust="spacingAndGlyphs" >24 Jul 08:00</text>
<text x="1021.4" y="943.2" font-size="9.3" fill="#000" textLength="49" lengthAdjust="spacingAndGlyphs" >25 Jul 00:00</text>
<text x="1085.4" y="943.2" font-size="9.3" fill="#000" textLength="49" lengthAdjust="spacingAndGlyphs" >25 Jul 16:00</text>
<text x="1149.4" y="943.2" font-size="9.3" fill="#000" textLength="49" lengthAdjust="spacingAndGlyphs" >26 Jul 08:00</text>
<text x="1213.4" y="943.2" font-size="9.3" fill="#000" textLength="49" lengthAdjust="spacingAndGlyphs" >28 Jul 23:00</text>
<text x="1277.4" y="943.2" font-size="9.3" fill="#000" textLength="49" lengthAdjust="spacingAndGlyphs" >29 Jul 12:00</text>
<text x="1341.4" y="943.2" font-size="9.3" fill="#000" textLength="49" lengthAdjust="spacingAndGlyphs" >30 Jul 04:00</text>
<text x="1405.4" y="943.2" font-size="9.3" fill="#000" textLength="49" lengthAdjust="spacingAndGlyphs" >30 Jul 20:00</text>
<path d="M1,40.8 L7.6,40.8 L4.3,37.4 Z" fill="#000"/>
<text x="13.5" y="42.2" font-size="9.3" fill="#000" textLength="186.3" lengthAdjust="spacingAndGlyphs" >DJ30-,H4&#160;&#160;27201.0 27201.0 27201.0 27201.0</text>
<text x="1395" y="109" font-size="32.4" fill="#031803" stroke="#031803" stroke-width="0.55" textLength="165" lengthAdjust="spacing" style="font-family:'Liberation Sans','Noto Sans CJK SC',sans-serif">多空转折点</text>
<text x="1393.6" y="107.6" font-size="32.4" fill="#00ff00" stroke="#00ff00" stroke-width="0.3" textLength="165" lengthAdjust="spacing" style="font-family:'Liberation Sans','Noto Sans CJK SC',sans-serif">多空转折点</text>
</g>
<defs>
<linearGradient id="gr1" x1="0" y1="0" x2="0" y2="1"><stop offset="0" stop-color="#f45252"/><stop offset="1" stop-color="#dc2a2a"/></linearGradient>
<linearGradient id="gr2" x1="0" y1="0" x2="0" y2="1"><stop offset="0" stop-color="#dc2a2a"/><stop offset="0.75" stop-color="#c00c0c"/><stop offset="1" stop-color="#a80000"/></linearGradient>
</defs>
<g shape-rendering="crispEdges">
<rect x="0" y="48" width="222" height="68" fill="#fff"/>
<rect x="1" y="50" width="52" height="25" fill="url(#gr1)"/>
<rect x="168" y="50" width="52" height="25" fill="url(#gr1)"/>
<rect x="1" y="75" width="109" height="39" fill="url(#gr2)"/>
<rect x="112" y="75" width="108" height="39" fill="url(#gr2)"/>
<rect x="5" y="73" width="44" height="1" fill="#f58a8a"/>
<rect x="172" y="73" width="44" height="1" fill="#f58a8a"/>
<rect x="55" y="50" width="111" height="22" fill="#fff"/>
<rect x="55.5" y="50.5" width="110" height="21" fill="none" stroke="#b4b4b4"/>
<rect x="56" y="51" width="20" height="20" fill="#e6e6e6"/>
<rect x="145" y="51" width="20" height="20" fill="#e6e6e6"/>
<rect x="76" y="51" width="1" height="20" fill="#c8c8c8"/>
<rect x="144" y="51" width="1" height="20" fill="#c8c8c8"/>
</g>
<path d="M62.5,59.5 L68.5,59.5 L65.5,62.8 Z" fill="#000"/>
<path d="M151.5,62.3 L157.5,62.3 L154.5,59 Z" fill="#000"/>
<text x="13" y="66" font-size="12.3" fill="#fff" textLength="26.3" lengthAdjust="spacingAndGlyphs" >SELL</text>
<text x="181.5" y="66" font-size="12.3" fill="#fff" textLength="23.5" lengthAdjust="spacingAndGlyphs" >BUY</text>
<text x="141" y="64.8" font-size="12.5" fill="#000" text-anchor="end" >1.00</text>
<text x="17" y="105" font-size="12" fill="#fff" textLength="34.5" lengthAdjust="spacingAndGlyphs" font-weight="bold" >27199</text>
<text x="127.3" y="105" font-size="12" fill="#fff" textLength="34" lengthAdjust="spacingAndGlyphs" font-weight="bold" >27207</text>
<text x="56" y="105.5" font-size="32.5" fill="#fff" textLength="22.5" lengthAdjust="spacingAndGlyphs" >.5</text>
<text x="166.7" y="105.5" font-size="32.5" fill="#fff" textLength="22.5" lengthAdjust="spacingAndGlyphs" >.5</text>
<g>
<rect x="0" y="0" width="1673" height="26" fill="#f0f0f0" shape-rendering="crispEdges"/>
<rect x="0" y="0" width="1673" height="1" fill="#fdfdfd" shape-rendering="crispEdges"/>
<rect x="0" y="26" width="1673" height="1" fill="#a0a0a0" shape-rendering="crispEdges"/>
<rect x="0" y="27" width="1673" height="1" fill="#696969" shape-rendering="crispEdges"/>
<path d="M-0.5,7.2 H6 L9,10 V19 H-0.5 Z" fill="#fdfdfd" stroke="#9a9a9a" stroke-width="1"/>
<path d="M0,10.5 H6 M0,13.5 H7" stroke="#b0b0b0" stroke-width="1.2"/>
<defs><linearGradient id="gpl" x1="0" y1="0" x2="1" y2="1"><stop offset="0" stop-color="#7dff7d"/><stop offset="1" stop-color="#00b400"/></linearGradient></defs>
<path d="M1.5,15.9 h3.7 v-3.7 h4 v3.7 h3.7 v4 h-3.7 v3.7 h-4 v-3.7 h-3.7 z" fill="url(#gpl)" stroke="#0a8a14" stroke-width="0.9"/>
<text x="16" y="17.4" font-size="12.1" fill="#000" textLength="35.9" lengthAdjust="spacing" style="font-family:'Liberation Sans','Noto Sans CJK SC',sans-serif">新订单</text>
<path d="M65,14.8 L64.3,16.4 L72.4,21.8 L79.7,15.6 L79.3,13.6 L73.5,19.6 Z" fill="#b8801c"/>
<defs><linearGradient id="gbk" x1="0" y1="0" x2="1" y2="1"><stop offset="0" stop-color="#f9df7a"/><stop offset="1" stop-color="#dca21e"/></linearGradient></defs>
<path d="M65,14.8 L70.3,7.3 L79.3,13.6 L73.5,19.6 Z" fill="url(#gbk)" stroke="#b8801c" stroke-width="0.8"/>
<path d="M94.3,8 L98,6.2 L105.2,7.2 L105.2,15.5 H94.3 Z" fill="#3f9af0" stroke="#1f6fd0" stroke-width="0.8"/>
<rect x="98.3" y="8.6" width="5.8" height="5" fill="#9fd0ff"/>
<path d="M99.5,10.7 h3.4" stroke="#fff" stroke-width="1"/>
<path d="M95,21.3 a3,3 0 0 1 0.6,-5.6 a3.2,3.2 0 0 1 5.8,-0.9 a2.8,2.8 0 0 1 4.3,2.3 a2.2,2.2 0 0 1 -0.3,4.2 Z" fill="#eef3fb" stroke="#7d9fd6" stroke-width="0.9"/>
<circle cx="127.9" cy="13.6" r="7.3" fill="none" stroke="#b4c8ea" stroke-width="1.1"/>
<circle cx="127.9" cy="13.6" r="5" fill="none" stroke="#6f9be0" stroke-width="1.3"/>
<circle cx="127.9" cy="13.6" r="2.8" fill="none" stroke="#3f74d8" stroke-width="1.2"/>
<path d="M128.3,13.6 L135.6,13.6 A7.7,7.7 0 0 1 128.3,21.3 Z" fill="#8fd08f" opacity="0.75"/>
<path d="M130.5,18.2 A5,5 0 0 0 132.9,13.6 M132,20 A7.3,7.3 0 0 0 135.2,13.6" fill="none" stroke="#3fa84f" stroke-width="1.2"/>
<circle cx="127.9" cy="13.4" r="1.6" fill="#1f4fc8"/>
<path d="M128.5,14.5 V21.6" stroke="#18a018" stroke-width="1.6"/>
<defs><linearGradient id="gyl" x1="0" y1="0" x2="1" y2="1"><stop offset="0" stop-color="#fff27a"/><stop offset="1" stop-color="#f0b000"/></linearGradient></defs>
<path d="M147.6,12.5 L153,20.3 L157,21.6 L162,13 Z" fill="url(#gyl)" stroke="#c89a1c" stroke-width="0.7"/>
<ellipse cx="155" cy="11" rx="8" ry="2.6" fill="#5fa8e0" stroke="#3a80c0" stroke-width="0.7"/>
<path d="M151,10.6 a4.2,4.8 0 0 1 8.4,0 z" fill="#7fc0ee" stroke="#3a80c0" stroke-width="0.7"/>
<circle cx="159.4" cy="17.6" r="4" fill="#e0261a" stroke="#b01008" stroke-width="0.6"/>
<rect x="158" y="16.2" width="2.8" height="2.8" fill="#fff"/>
<text x="168.4" y="17.4" font-size="12" fill="#000" textLength="47.25" lengthAdjust="spacing" style="font-family:'Liberation Sans','Noto Sans CJK SC',sans-serif">自动交易</text>
<rect x="223" y="1" width="1" height="25" fill="#a0a0a0" shape-rendering="crispEdges"/>
<rect x="222" y="1" width="1" height="25" fill="#fbfbfb" shape-rendering="crispEdges"/>
<rect x="227" y="4" width="3" height="1" fill="#a8a8a8" shape-rendering="crispEdges"/>
<rect x="227" y="6" width="3" height="1" fill="#a8a8a8" shape-rendering="crispEdges"/>
<rect x="227" y="8" width="3" height="1" fill="#a8a8a8" shape-rendering="crispEdges"/>
<rect x="227" y="10" width="3" height="1" fill="#a8a8a8" shape-rendering="crispEdges"/>
<rect x="227" y="12" width="3" height="1" fill="#a8a8a8" shape-rendering="crispEdges"/>
<rect x="227" y="14" width="3" height="1" fill="#a8a8a8" shape-rendering="crispEdges"/>
<rect x="227" y="16" width="3" height="1" fill="#a8a8a8" shape-rendering="crispEdges"/>
<rect x="227" y="18" width="3" height="1" fill="#a8a8a8" shape-rendering="crispEdges"/>
<rect x="227" y="20" width="3" height="1" fill="#a8a8a8" shape-rendering="crispEdges"/>
<rect x="227" y="22" width="3" height="1" fill="#a8a8a8" shape-rendering="crispEdges"/>
<path d="M241.5,9 V21.8 M239.1,19.5 H251.6" stroke="#555" stroke-width="1.1" fill="none"/>
<path d="M241.5,7.7 l1.7,2.6 h-3.4 z" fill="#555"/>
<path d="M253.2,19.5 l-2.4,-1.6 v3.2 z" fill="#555"/>
<path d="M247.3,9.2 V17.8 M247.3,10.2 h2.8 M245.1,16.4 h2.2" stroke="#0a8a0a" stroke-width="1.3" fill="none"/>
<g shape-rendering="crispEdges">
<rect x="261" y="2" width="25" height="22" fill="#f8f8f8"/>
<rect x="261" y="2" width="25" height="1" fill="#a0a0a0"/>
<rect x="261" y="2" width="1" height="22" fill="#a0a0a0"/>
<rect x="285" y="3" width="1" height="21" fill="#ffffff"/>
<rect x="262" y="23" width="24" height="1" fill="#ffffff"/>
</g>
<path d="M269.5,9 V21.8 M267.1,19.5 H279.6" stroke="#555" stroke-width="1.1" fill="none"/>
<path d="M269.5,7.7 l1.7,2.6 h-3.4 z" fill="#555"/>
<path d="M281.20000000000005,19.5 l-2.4,-1.6 v3.2 z" fill="#555"/>
<path d="M275.6,6.2 V17.8" stroke="#0a8a0a" stroke-width="1.2"/>
<rect x="273.6" y="8.5" width="4" height="7.2" fill="#4fe84f" stroke="#0a8a0a" stroke-width="1"/>
<path d="M297.5,9 V21.8 M295.1,19.5 H307.6" stroke="#555" stroke-width="1.1" fill="none"/>
<path d="M297.5,7.7 l1.7,2.6 h-3.4 z" fill="#555"/>
<path d="M309.20000000000005,19.5 l-2.4,-1.6 v3.2 z" fill="#555"/>
<path d="M296,16.7 C298.5,14.5 300,11.2 302,11.3 C304,11.4 305.5,14.6 307.8,15.3" stroke="#2a9a2a" stroke-width="1.2" fill="none"/>
<rect x="318" y="3" width="1" height="21" fill="#a0a0a0" shape-rendering="crispEdges"/>
<path d="M337,15.5 L342,21" stroke="#c9a227" stroke-width="3" stroke-linecap="round"/>
<path d="M337,15.5 L342,21" stroke="#f3dc86" stroke-width="1" stroke-linecap="round"/>
<circle cx="333" cy="11.5" r="5.2" fill="#d6e8fb" stroke="#3e7fcf" stroke-width="1.5"/>
<path d="M330.5,11.5 h5" stroke="#2f6fc0" stroke-width="1.6"/>
<path d="M333,9 v5" stroke="#2f6fc0" stroke-width="1.6"/>
<path d="M365,15.5 L370,21" stroke="#c9a227" stroke-width="3" stroke-linecap="round"/>
<path d="M365,15.5 L370,21" stroke="#f3dc86" stroke-width="1" stroke-linecap="round"/>
<circle cx="361" cy="11.5" r="5.2" fill="#d6e8fb" stroke="#3e7fcf" stroke-width="1.5"/>
<path d="M358.5,11.5 h5" stroke="#2f6fc0" stroke-width="1.6"/>
<rect x="383" y="6" width="8" height="7.6" fill="#3a9a2a"/>
<rect x="384" y="9" width="6" height="3.6" fill="#eef6ff"/>
<rect x="385" y="10.4" width="4" height="1" fill="#7fd060"/>
<rect x="391.5" y="6" width="8" height="7.6" fill="#1f5fc0"/>
<rect x="392.5" y="9" width="6" height="3.6" fill="#eef6ff"/>
<rect x="393.5" y="10.4" width="4" height="1" fill="#5f9fe8"/>
<rect x="383" y="14" width="8" height="7.6" fill="#1f5fc0"/>
<rect x="384" y="17" width="6" height="3.6" fill="#eef6ff"/>
<rect x="385" y="18.4" width="4" height="1" fill="#5f9fe8"/>
<rect x="391.5" y="14" width="8" height="7.6" fill="#3a9a2a"/>
<rect x="392.5" y="17" width="6" height="3.6" fill="#eef6ff"/>
<rect x="393.5" y="18.4" width="4" height="1" fill="#7fd060"/>
<rect x="408" y="3" width="1" height="21" fill="#a0a0a0" shape-rendering="crispEdges"/>
<g shape-rendering="crispEdges">
<rect x="413" y="2" width="25" height="22" fill="#f8f8f8"/>
<rect x="413" y="2" width="25" height="1" fill="#a0a0a0"/>
<rect x="413" y="2" width="1" height="22" fill="#a0a0a0"/>
<rect x="437" y="3" width="1" height="21" fill="#ffffff"/>
<rect x="414" y="23" width="24" height="1" fill="#ffffff"/>
</g>
<path d="M421.5,9 V21.8 M419.1,19.5 H431.6" stroke="#555" stroke-width="1.1" fill="none"/>
<path d="M421.5,7.7 l1.7,2.6 h-3.4 z" fill="#555"/>
<path d="M433.20000000000005,19.5 l-2.4,-1.6 v3.2 z" fill="#555"/>
<path d="M426.5,10.3 l4,3.2 l-4,3.2 z" fill="#7fe87f" stroke="#1a9a1a" stroke-width="1.1"/>
<g shape-rendering="crispEdges">
<rect x="441" y="2" width="25" height="22" fill="#f8f8f8"/>
<rect x="441" y="2" width="25" height="1" fill="#a0a0a0"/>
<rect x="441" y="2" width="1" height="22" fill="#a0a0a0"/>
<rect x="465" y="3" width="1" height="21" fill="#ffffff"/>
<rect x="442" y="23" width="24" height="1" fill="#ffffff"/>
</g>
<path d="M449.5,9 V21.8 M447.1,19.5 H459.6" stroke="#555" stroke-width="1.1" fill="none"/>
<path d="M449.5,7.7 l1.7,2.6 h-3.4 z" fill="#555"/>
<path d="M461.20000000000005,19.5 l-2.4,-1.6 v3.2 z" fill="#555"/>
<path d="M455.5,8 V18" stroke="#1f5fa8" stroke-width="1.3"/>
<path d="M461.5,13.5 h-4 M459.5,11.5 l-2.3,2 l2.3,2" stroke="#d03a10" stroke-width="1.1" fill="none"/>
<rect x="470" y="3" width="1" height="21" fill="#a0a0a0" shape-rendering="crispEdges"/>
<path d="M480.5,6.5 H488 L491,9.5 V19.5 H480.5 Z" fill="#fff" stroke="#8c8c8c" stroke-width="1"/>
<path d="M484,10 c-1.5,0 -1.5,2 -1.5,3.5 c0,1.5 0,3.5 1.5,3.5 M482,13.5 h3" stroke="#555" stroke-width="0.9" fill="none"/>
<path d="M485.5,16 h3.2 v-3.2 h3.6 v3.2 h3.2 v3.6 h-3.2 v3.2 h-3.6 v-3.2 h-3.2 z" fill="#2fc12f" stroke="#12861a" stroke-width="0.8"/>
<path d="M501.5,12.5 h6 l-3,3.5 z" fill="#000"/>
<circle cx="526" cy="14" r="7.3" fill="#2a6fd0" stroke="#1a4fa0" stroke-width="1"/>
<circle cx="526" cy="14" r="5.2" fill="#f4f8ff"/>
<path d="M526,10.5 V14.3 H529" stroke="#444" stroke-width="1.1" fill="none"/>
<path d="M540.5,12.5 h6 l-3,3.5 z" fill="#000"/>
<rect x="557.5" y="7.5" width="15" height="13" fill="#f6faff" stroke="#3a78c8" stroke-width="1"/>
<rect x="557" y="7" width="16" height="2.6" fill="#3a78c8"/>
<path d="M559.5,13 l2,-0.8 l2,0.8 l2,-1.2 l2,0.6 l2,-1.2" stroke="#c03018" stroke-width="1.1" fill="none"/>
<path d="M559.5,18 l2,-0.8 l2,0.8 l2,-1.6 l2,1.6 l2,-1" stroke="#1a9a1a" stroke-width="1.1" fill="none"/>
<path d="M579.5,12.5 h6 l-3,3.5 z" fill="#000"/>
<rect x="591" y="1" width="1" height="25" fill="#a0a0a0" shape-rendering="crispEdges"/>
<rect x="590" y="1" width="1" height="25" fill="#fbfbfb" shape-rendering="crispEdges"/>
<rect x="595" y="4" width="3" height="1" fill="#a8a8a8" shape-rendering="crispEdges"/>
<rect x="595" y="6" width="3" height="1" fill="#a8a8a8" shape-rendering="crispEdges"/>
<rect x="595" y="8" width="3" height="1" fill="#a8a8a8" shape-rendering="crispEdges"/>
<rect x="595" y="10" width="3" height="1" fill="#a8a8a8" shape-rendering="crispEdges"/>
<rect x="595" y="12" width="3" height="1" fill="#a8a8a8" shape-rendering="crispEdges"/>
<rect x="595" y="14" width="3" height="1" fill="#a8a8a8" shape-rendering="crispEdges"/>
<rect x="595" y="16" width="3" height="1" fill="#a8a8a8" shape-rendering="crispEdges"/>
<rect x="595" y="18" width="3" height="1" fill="#a8a8a8" shape-rendering="crispEdges"/>
<rect x="595" y="20" width="3" height="1" fill="#a8a8a8" shape-rendering="crispEdges"/>
<rect x="595" y="22" width="3" height="1" fill="#a8a8a8" shape-rendering="crispEdges"/>
<g shape-rendering="crispEdges">
<rect x="601" y="2" width="25" height="22" fill="#f8f8f8"/>
<rect x="601" y="2" width="25" height="1" fill="#a0a0a0"/>
<rect x="601" y="2" width="1" height="22" fill="#a0a0a0"/>
<rect x="625" y="3" width="1" height="21" fill="#ffffff"/>
<rect x="602" y="23" width="24" height="1" fill="#ffffff"/>
</g>
<path d="M609,7 V19 L611.8,16.4 L614,21 L616,20 L613.9,15.6 L617.6,15.4 Z" fill="#505050"/>
<path d="M641.5,7 V21 M634,14.5 H649" stroke="#4a4a4a" stroke-width="1.1"/>
<rect x="658" y="3" width="1" height="21" fill="#a0a0a0" shape-rendering="crispEdges"/>
<path d="M675.5,8 V21" stroke="#4a4a4a" stroke-width="1.2"/>
<path d="M698,14.5 H710.5" stroke="#4a4a4a" stroke-width="1.2"/>
<path d="M725.5,20.8 L738,9" stroke="#4a4a4a" stroke-width="1.2"/>
<g stroke="#444" stroke-width="0.9" fill="none"><path d="M751.7,15.7 L764.3,6.3 M752.6,19.6 L766,11.7 M752.2,17.6 L765.2,9"/><path d="M756.2,11.2 l-1.2,8 M759.4,8.8 l-1.2,8.4 M762.8,6 l-1.4,8.6"/></g>
<text x="762.5" y="23" font-size="6.5" fill="#333" font-weight="bold" >E</text>
<path d="M781,7.5 H794.5" stroke="#4a4a4a" stroke-width="1" stroke-dasharray="1,1" shape-rendering="crispEdges"/>
<path d="M781,10.5 H794.5" stroke="#4a4a4a" stroke-width="1" stroke-dasharray="1,1" shape-rendering="crispEdges"/>
<path d="M781,14.5 H794.5" stroke="#4a4a4a" stroke-width="1" stroke-dasharray="1,1" shape-rendering="crispEdges"/>
<path d="M781,18.5 H794.5" stroke="#4a4a4a" stroke-width="1" stroke-dasharray="1,1" shape-rendering="crispEdges"/>
<text x="790.8" y="23" font-size="6.5" fill="#333" font-weight="bold" >F</text>
<text x="811.6" y="19" font-size="12.5" fill="#555" font-weight="bold" >A</text>
<rect x="838.5" y="8.5" width="11" height="12" fill="none" stroke="#4a4a4a" stroke-width="1" stroke-dasharray="1,1" shape-rendering="crispEdges"/>
<rect x="837" y="7" width="2.5" height="1.5" fill="#4a4a4a"/>
<text x="840.3" y="19" font-size="11.5" fill="#555" font-weight="bold" >T</text>
<path d="M868.3,7.9 l3.2,2.4 l-3.2,2.4 l-3.2,-2.4 z" fill="#3c3c3c"/>
<path d="M875.7,16.2 l3.2,2.4 l-3.2,2.4 l-3.2,-2.4 z" fill="#3c3c3c"/>
<path d="M866.5,16 L868.4,17.6 L874.1,11.2" stroke="#3c3c3c" stroke-width="1.2" fill="none"/>
<path d="M885.5,12.5 h6 l-3,3.5 z" fill="#000"/>
<rect x="897" y="1" width="1" height="25" fill="#a0a0a0" shape-rendering="crispEdges"/>
<rect x="896" y="1" width="1" height="25" fill="#fbfbfb" shape-rendering="crispEdges"/>
<rect x="901" y="4" width="3" height="1" fill="#a8a8a8" shape-rendering="crispEdges"/>
<rect x="901" y="6" width="3" height="1" fill="#a8a8a8" shape-rendering="crispEdges"/>
<rect x="901" y="8" width="3" height="1" fill="#a8a8a8" shape-rendering="crispEdges"/>
<rect x="901" y="10" width="3" height="1" fill="#a8a8a8" shape-rendering="crispEdges"/>
<rect x="901" y="12" width="3" height="1" fill="#a8a8a8" shape-rendering="crispEdges"/>
<rect x="901" y="14" width="3" height="1" fill="#a8a8a8" shape-rendering="crispEdges"/>
<rect x="901" y="16" width="3" height="1" fill="#a8a8a8" shape-rendering="crispEdges"/>
<rect x="901" y="18" width="3" height="1" fill="#a8a8a8" shape-rendering="crispEdges"/>
<rect x="901" y="20" width="3" height="1" fill="#a8a8a8" shape-rendering="crispEdges"/>
<rect x="901" y="22" width="3" height="1" fill="#a8a8a8" shape-rendering="crispEdges"/>
<g shape-rendering="crispEdges">
<rect x="1047" y="2" width="25" height="22" fill="#f8f8f8"/>
<rect x="1047" y="2" width="25" height="1" fill="#a0a0a0"/>
<rect x="1047" y="2" width="1" height="22" fill="#a0a0a0"/>
<rect x="1071" y="3" width="1" height="21" fill="#ffffff"/>
<rect x="1048" y="23" width="24" height="1" fill="#ffffff"/>
</g>
<text x="912.3" y="17.2" font-size="9.6" fill="#3c3c3c" textLength="13" lengthAdjust="spacingAndGlyphs" >M1</text>
<text x="940" y="17.2" font-size="9.6" fill="#3c3c3c" textLength="13.5" lengthAdjust="spacingAndGlyphs" >M5</text>
<text x="966.4" y="17.2" font-size="9.6" fill="#3c3c3c" textLength="18" lengthAdjust="spacingAndGlyphs" >M15</text>
<text x="994.4" y="17.2" font-size="9.6" fill="#3c3c3c" textLength="18" lengthAdjust="spacingAndGlyphs" >M30</text>
<text x="1025.2" y="17.2" font-size="9.6" fill="#3c3c3c" textLength="12.6" lengthAdjust="spacingAndGlyphs" >H1</text>
<text x="1052" y="17.2" font-size="9.6" fill="#3c3c3c" textLength="13" lengthAdjust="spacingAndGlyphs" >H4</text>
<text x="1081.7" y="17.2" font-size="9.6" fill="#3c3c3c" textLength="12" lengthAdjust="spacingAndGlyphs" >D1</text>
<text x="1109.2" y="17.2" font-size="9.6" fill="#3c3c3c" textLength="14.3" lengthAdjust="spacingAndGlyphs" >W1</text>
<text x="1135.5" y="17.2" font-size="9.6" fill="#3c3c3c" textLength="15.3" lengthAdjust="spacingAndGlyphs" >MN</text>
<rect x="1158" y="3" width="1" height="21" fill="#a0a0a0" shape-rendering="crispEdges"/>
<path d="M1621.2,18.6 L1625.6,14.9" stroke="#2a5fd8" stroke-width="2.7" stroke-linecap="round"/>
<circle cx="1628.4" cy="11.3" r="4.1" fill="#f6f6ff" stroke="#2a62dc" stroke-width="1.3"/>
<defs><linearGradient id="gbb" x1="0" y1="0" x2="0" y2="1"><stop offset="0" stop-color="#ffffff"/><stop offset="1" stop-color="#dcdce8"/></linearGradient></defs>
<path d="M1662.6,15.4 a6.6,4.6 0 1 0 -3.4,0 h1.6 l3.6,2.6 l-0.9,-2.7 z" fill="url(#gbb)" stroke="#8c8c8c" stroke-width="0.9"/>
<path d="M1651,18.9 a5.2,3.9 0 1 1 2.6,0 h-1.2 l-3.2,2.2 l0.8,-2.3 z" fill="url(#gbb)" stroke="#8c8c8c" stroke-width="0.9"/>
</g>
</svg></body></html>
